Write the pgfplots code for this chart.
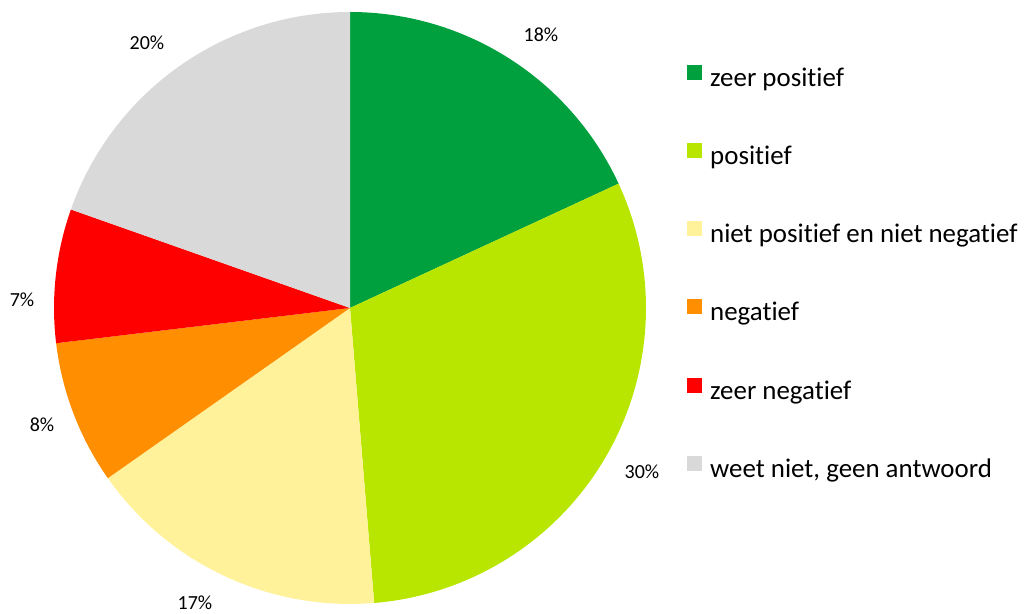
\documentclass[border=0pt]{standalone}
\usepackage{pgfplots}
\usepackage{pgfplotstable}
\pgfplotsset{compat=1.18}
\usepackage{fontspec}
\setmainfont{Carlito}[Ligatures=NoCommon]
\definecolor{c0}{HTML}{00A03E}
\definecolor{c1}{HTML}{B8E600}
\definecolor{c2}{HTML}{FFF29A}
\definecolor{c3}{HTML}{FF8F00}
\definecolor{c4}{HTML}{FF0000}
\definecolor{c5}{HTML}{D9D9D9}

% share of each slice (percent), clockwise from 12 o'clock
\pgfplotstableread{
share
18.1
30.6
16.55
7.85
7.3
19.6
}\piedata

\pgfmathsetmacro\cum{0}
\pgfplotsforeachungrouped \i in {0,...,5}{%
  \pgfplotstablegetelem{\i}{share}\of\piedata
  \pgfmathsetmacro\sa{90-3.6*\cum}%
  \pgfmathsetmacro\cum{\cum+\pgfplotsretval}%
  \pgfmathsetmacro\ea{90-3.6*\cum}%
  \expandafter\xdef\csname sa\i\endcsname{\sa}%
  \expandafter\xdef\csname ea\i\endcsname{\ea}%
}

\begin{document}
\begin{tikzpicture}
\begin{axis}[
  width=1027pt, height=614pt, scale only axis,
  xmin=-350, xmax=677, ymin=-306, ymax=308,
  hide axis, clip=false,
  legend image code/.code={\fill[#1] (0pt,0pt) rectangle (15pt,15pt);},
  legend cell align=left,
  legend style={at={(axis cs:337,243)}, anchor=north west, draw=none, fill=none,
    inner sep=0pt, row sep=49.6pt,
    nodes={inner sep=0pt, text height=20pt, text depth=7pt,
      font=\fontsize{26.9}{32}\selectfont, text=black},
    /tikz/every odd column/.append style={column sep=8pt}},
]
\path (axis cs:-350,-306) rectangle (axis cs:677,308);
\pgfplotsinvokeforeach{0,...,5}{%
  \fill[c#1] (axis cs:0,0) -- ++(\csname sa#1\endcsname:296pt)
    arc[start angle=\csname sa#1\endcsname, end angle=\csname ea#1\endcsname, radius=296pt] -- cycle;
}
\addlegendimage{fill=c0, draw=none}\addlegendentry{zeer positief}
\addlegendimage{fill=c1, draw=none}\addlegendentry{positief}
\addlegendimage{fill=c2, draw=none}\addlegendentry{niet positief en niet negatief}
\addlegendimage{fill=c3, draw=none}\addlegendentry{negatief}
\addlegendimage{fill=c4, draw=none}\addlegendentry{zeer negatief}
\addlegendimage{fill=c5, draw=none}\addlegendentry{weet niet, geen antwoord}

\begin{scope}[every node/.style={font=\fontsize{20}{24}\selectfont, text=black}]
\node at (axis cs:191,273) {18\%};
\node at (axis cs:292,-164) {30\%};
\node at (axis cs:-155,-295) {17\%};
\node at (axis cs:-308,-117) {8\%};
\node at (axis cs:-328,8) {7\%};
\node at (axis cs:-203,265) {20\%};
\end{scope}
\end{axis}
\end{tikzpicture}
\end{document}
